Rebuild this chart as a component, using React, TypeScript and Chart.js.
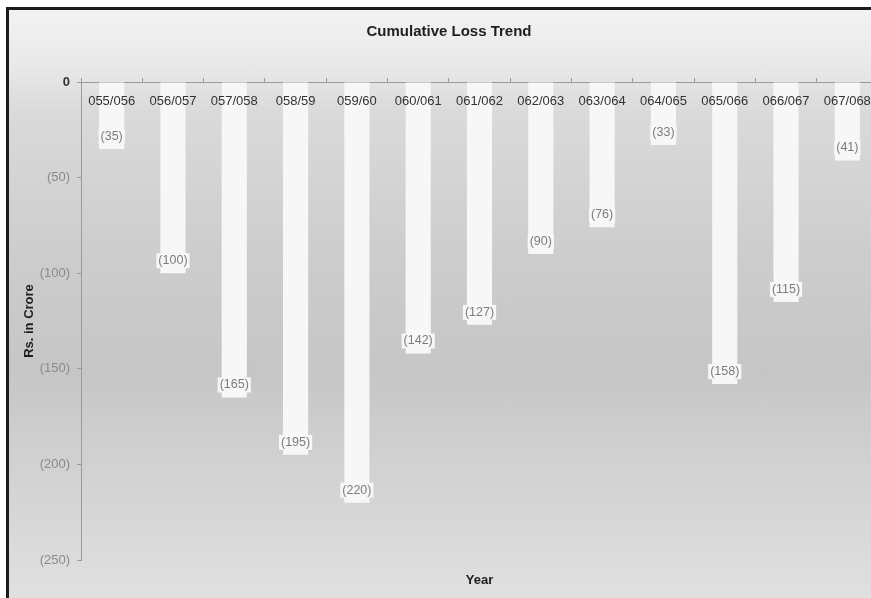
import React, { useEffect, useRef } from "react";
import { Chart, registerables } from "chart.js";

Chart.register(...registerables);

const TITLE = "Cumulative Loss Trend";
const Y_TITLE = "Rs. in Crore";
const X_TITLE = "Year";
const CATEGORIES = [
  "055/056", "056/057", "057/058", "058/59", "059/60", "060/061", "061/062",
  "062/063", "063/064", "064/065", "065/066", "066/067", "067/068",
];
const LOSSES = [-35, -100, -165, -195, -220, -142, -127, -90, -76, -33, -158, -115, -41];
const Y_MIN = -250;
const Y_MAX = 0;
const Y_STEP = 50;

const FONT = "Arial, 'Liberation Sans', Helvetica, sans-serif";

const fmt = (v: number) => (v === 0 ? "0" : v < 0 ? `(${Math.abs(v)})` : `${v}`);

const barLabels = {
  id: "barLabels",
  afterDatasetsDraw(chart: any) {
    const ctx = chart.ctx;
    const meta = chart.getDatasetMeta(0);
    const data = chart.data.datasets[0].data as number[];
    ctx.save();
    ctx.font = `12.5px ${FONT}`;
    ctx.textAlign = "center";
    ctx.textBaseline = "middle";
    meta.data.forEach((bar: any, i: number) => {
      const text = fmt(data[i]);
      const w = ctx.measureText(text).width + 4;
      const cy = bar.y - 12.5;
      ctx.fillStyle = "#f7f7f7";
      ctx.fillRect(bar.x - w / 2, cy - 7.5, w, 15);
      ctx.fillStyle = "#7c7c7c";
      ctx.fillText(text, bar.x, cy);
    });
    ctx.restore();
  },
};

export default function App() {
  const ref = useRef<HTMLCanvasElement | null>(null);

  useEffect(() => {
    if (!ref.current) return;
    const chart = new Chart(ref.current, {
      type: "bar",
      data: {
        labels: CATEGORIES,
        datasets: [
          {
            data: LOSSES,
            backgroundColor: "#f7f7f7",
            borderWidth: 0,
            categoryPercentage: 1,
            barPercentage: 0.41,
            xAxisID: "x",
            yAxisID: "y",
          },
        ],
      },
      options: {
        responsive: false,
        animation: false,
        layout: { padding: 0 },
        plugins: {
          legend: { display: false },
          tooltip: { enabled: false },
          title: {
            display: true,
            text: TITLE,
            color: "#1e1e1e",
            font: { family: FONT, size: 15, weight: "bold" },
            padding: { top: 13, bottom: 0 },
          },
        },
        scales: {
          x: {
            type: "category",
            position: "top",
            offset: true,
            afterFit: (s: any) => {
              s.height = 41;
            },
            grid: {
              display: true,
              offset: true,
              drawOnChartArea: false,
              drawTicks: true,
              tickLength: 4,
              color: "#9a9a9a",
            },
            border: { display: true, color: "#9a9a9a", width: 1 },
            ticks: {
              z: 1,
              mirror: true,
              padding: 12,
              maxRotation: 0,
              autoSkip: false,
              color: "#333333",
              font: { family: FONT, size: 13 },
            },
          },
          x2: {
            type: "category",
            position: "bottom",
            afterFit: (s: any) => {
              s.height = 50;
            },
            grid: { display: false },
            border: { display: false },
            ticks: { display: false },
            title: {
              display: true,
              text: X_TITLE,
              color: "#1e1e1e",
              font: { family: FONT, size: 13, weight: "bold" },
              padding: { top: 0, bottom: 22 },
            },
          },
          y: {
            type: "linear",
            position: "left",
            min: Y_MIN,
            max: Y_MAX,
            afterFit: (s: any) => {
              s.width = 72;
            },
            grid: {
              display: true,
              drawOnChartArea: false,
              drawTicks: true,
              tickLength: 4,
              color: "#9a9a9a",
            },
            border: { display: true, color: "#9a9a9a", width: 1 },
            ticks: {
              stepSize: Y_STEP,
              padding: 7,
              callback: (v: any) => fmt(Number(v)),
              color: (c: any) => (c.tick && c.tick.value === 0 ? "#333333" : "#8a8a8a"),
              font: (c: any) => ({
                family: FONT,
                size: 13,
                weight: c.tick && c.tick.value === 0 ? "bold" : "normal",
              }),
            },
            title: {
              display: true,
              text: Y_TITLE,
              color: "#1e1e1e",
              font: { family: FONT, size: 13, weight: "bold" },
              padding: { top: 13, bottom: 0 },
            },
          },
          y2: {
            type: "linear",
            position: "right",
            afterFit: (s: any) => {
              s.width = 11;
            },
            grid: { display: false },
            border: { display: false },
            ticks: { display: false },
          },
        },
      },
      plugins: [barLabels],
    } as any);
    return () => chart.destroy();
  }, []);

  return (
    <div
      style={{
        position: "fixed",
        left: 0,
        top: 0,
        width: 871,
        height: 598,
        overflow: "hidden",
        background: "#ffffff",
      }}
    >
      <div
        style={{
          position: "absolute",
          left: 6,
          top: 7,
          width: 880,
          height: 600,
          borderLeft: "3px solid #1c1c1c",
          borderTop: "3px solid #1c1c1c",
          background:
            "linear-gradient(to bottom, #f2f2f2 0%, #e9e9e9 9%, #dadada 17%, #cdcdcd 40%, #c6c6c6 60%, #d0d0d0 74%, #e0e0e0 98%)",
        }}
      >
        <canvas ref={ref} width={880} height={600} style={{ display: "block" }} />
      </div>
    </div>
  );
}
